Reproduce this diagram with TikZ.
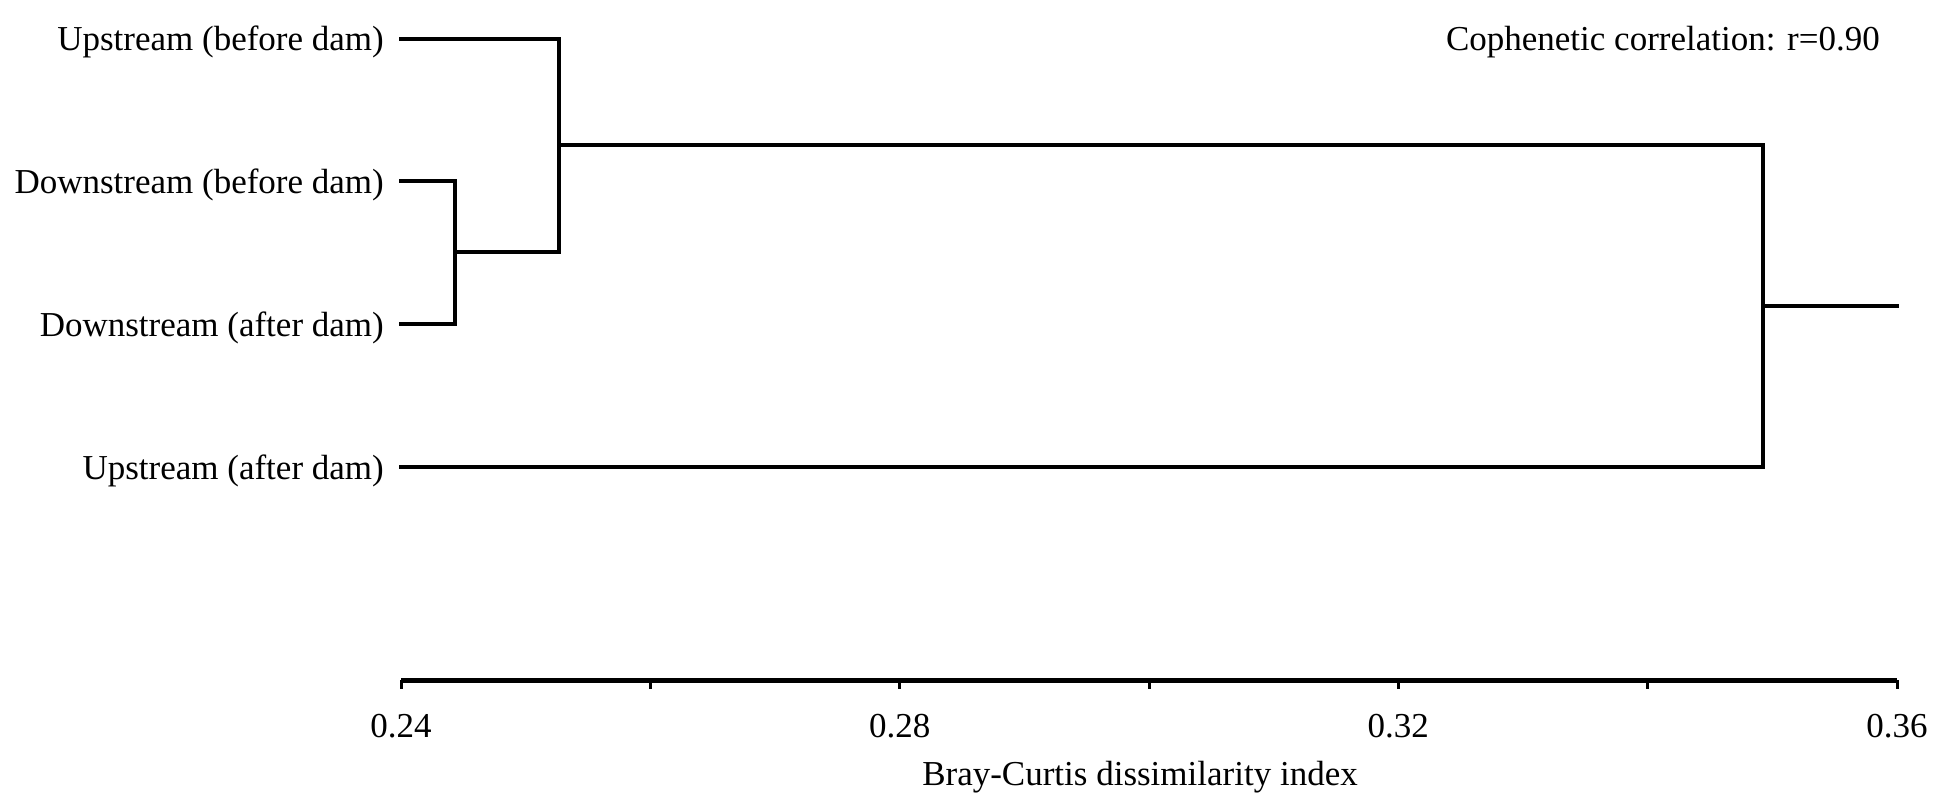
\documentclass[tikz,border=0pt]{standalone}
\usepackage{fontspec}
\setmainfont{Liberation Serif}
\begin{document}
\begin{tikzpicture}[x=1pt,y=-1pt,
  dend/.style={line width=4pt,line cap=rect,line join=miter},
  axisline/.style={line width=5pt},
  tickline/.style={line width=3pt},
  lbl/.style={inner sep=0pt,font=\fontsize{35}{42}\selectfont},
]
\useasboundingbox (0,0) rectangle (1948,804);
% leaf tips
\coordinate (ub) at (401,38.5);
\coordinate (db) at (401,181.4);
\coordinate (da) at (401,324.2);
\coordinate (ua) at (401,467.1);
% merge points
\coordinate (m1t) at (454.7,181.4);
\coordinate (m1b) at (454.7,324.2);
\coordinate (m1) at (454.7,252.2);
\coordinate (m2t) at (559,38.5);
\coordinate (m2b) at (559,252.2);
\coordinate (m2) at (559,145.3);
\coordinate (m3t) at (1762.8,145.3);
\coordinate (m3b) at (1762.8,467.1);
\coordinate (m3) at (1762.8,305.6);
\coordinate (root) at (1897,305.6);
% labels
\node[lbl,anchor=base east] (lub) at (384,50) {Upstream (before dam)};
\node[lbl,anchor=base east] (ldb) at (384,193) {Downstream (before dam)};
\node[lbl,anchor=base east] (lda) at (384,336) {Downstream (after dam)};
\node[lbl,anchor=base east] (lua) at (384,479) {Upstream (after dam)};
\node[lbl,anchor=base east] (coph) at (1880,50) {Cophenetic correlation: r=0.90};
% dendrogram
\draw[dend] (db) -- (m1t) -- (m1b) -- (da);
\draw[dend] (ub) -- (m2t) -- (m2b) -- (m1);
\draw[dend] (m2) -- (m3t) -- (m3b) -- (ua);
\draw[dend] (m3) -- (root);
% axis
\coordinate (a0) at (401,680);
\coordinate (a1) at (1897,680);
\draw[axisline] (a0) -- (a1);
\foreach \i in {0,...,6}{
  \coordinate (t\i) at ({401+\i*249.333},680);
  \draw[tickline] (t\i) -- ++(0,9);
}
\node[lbl,anchor=base] (x024) at (t0 |- 0,737) {0.24};
\node[lbl,anchor=base] (x028) at (t2 |- 0,737) {0.28};
\node[lbl,anchor=base] (x032) at (t4 |- 0,737) {0.32};
\node[lbl,anchor=base] (x036) at (t6 |- 0,737) {0.36};
\node[lbl,anchor=base] (xlab) at (1140,785) {Bray-Curtis dissimilarity index};
\end{tikzpicture}
\end{document}
